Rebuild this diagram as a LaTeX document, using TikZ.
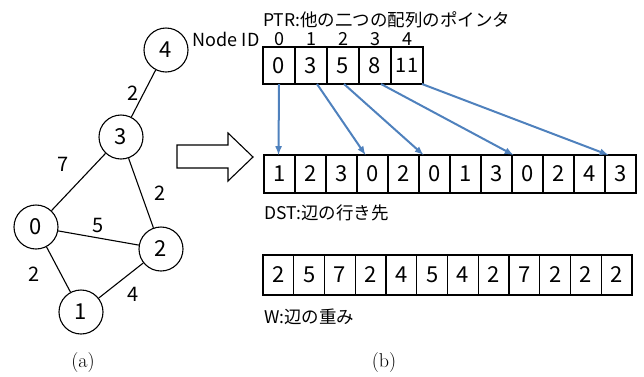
\documentclass[tikz,border=0pt]{standalone}
\usepackage{fontspec}
\usetikzlibrary{arrows,positioning}
\newfontfamily\jpfont{Noto Sans CJK JP}
\definecolor{ptrblue}{RGB}{79,129,189}

\tikzset{
  vtx/.style={circle, draw, line width=1.1pt, minimum size=44pt, inner sep=0pt,
    font=\jpfont\fontsize{22}{22}\selectfont},
  wlabel/.style={font=\jpfont\fontsize{20}{20}\selectfont, inner sep=2pt},
  cell/.style={draw, line width=1.2pt, outer sep=0pt, inner sep=0pt, anchor=north west,
    font=\jpfont\fontsize{22}{22}\selectfont},
  idnum/.style={font=\jpfont\fontsize{18}{18}\selectfont, inner sep=1pt},
  caption/.style={font=\jpfont\fontsize{17.5}{17.5}\selectfont, anchor=west, inner sep=0pt},
  subcap/.style={font=\fontsize{20}{20}\selectfont},
  ptrarrow/.style={-latex, draw=ptrblue, line width=2pt}
}

\begin{document}
\begin{tikzpicture}[x=1pt, y=-1pt]
\useasboundingbox (0,0) rectangle (644,376);

% graph (a)
\node[vtx] (n4) at (166,50) {4};
\node[vtx] (n3) at (121,137) {3};
\node[vtx] (n0) at (36,227) {0};
\node[vtx] (n2) at (161,249) {2};
\node[vtx] (n1) at (81,312) {1};
\draw[line width=1.1pt]
  (n4) -- node[wlabel, left=2pt] {2} (n3)
  (n3) -- node[wlabel, above left=11pt] {7} (n0)
  (n3) -- node[wlabel, right=11pt] {2} (n2)
  (n0) -- node[wlabel, above=3pt] {5} (n2)
  (n0) -- node[wlabel, pos=0.6, left=19pt] {2} (n1)
  (n1) -- node[wlabel, below right=6pt] {4} (n2);
\node[subcap] (capa) at (83,362) {(a)};

% hollow arrow
\draw[line width=1.1pt, fill=white] (177,145) -- (228,145) -- (228,133) -- (253,157)
  -- (228,181) -- (228,168) -- (177,168) -- cycle;

% PTR
\node[caption] (ptrlbl) at (263,20) {PTR:他の二つの配列のポインタ};
\foreach \v [count=\i from 0] in {0,3,5,8,{\fontsize{20}{20}\selectfont 11}}
  \node[cell, minimum width=32pt, minimum height=37pt] (p\i) at ({263+32*\i},47) {\v};
\foreach \i in {0,...,4}
  \node[idnum, above=0pt of p\i] (id\i) {\i};
\node[idnum, left=12pt of id0] (nid) {Node ID};

% DST
\foreach \v [count=\i from 0] in {1,2,3,0,2,0,1,\raisebox{-4pt}{3},0,2,4,3}
  \node[cell, minimum width=31pt, minimum height=38pt] (d\i) at ({264+31*\i},155) {\v};
\node[caption] (dstlbl) at (264,213) {DST:辺の行き先};

% pointers
\foreach \s/\d/\a/\b in {0/0/0/-1, 1/3/6/-7, 2/5/1/-11, 3/8/6/-14, 4/11/15/-12}
  \draw[ptrarrow] ([xshift=\a pt]p\s.south) -- ([xshift=\b pt]d\d.north);

% W
\foreach \v [count=\i from 0] in {2,5,7,2,4,5,4,2,7,2,2,2}
  \node[cell, minimum width=30.75pt, minimum height=40pt] (w\i) at ({263+30.75*\i},255) {\v};
\node[caption] (wlbl) at (264,317) {W:辺の重み};
\node[subcap] (capb) at (384,362) {(b)};
\end{tikzpicture}
\end{document}
